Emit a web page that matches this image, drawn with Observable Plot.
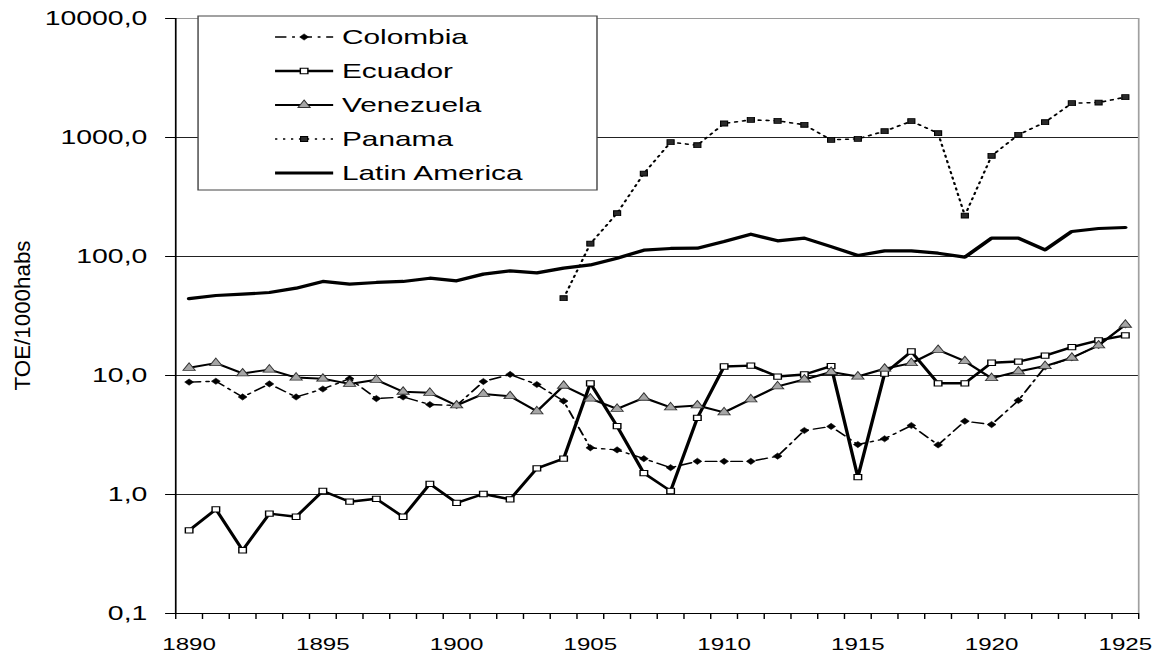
<!DOCTYPE html>
<html>
<head>
<meta charset="utf-8">
<script src="https://cdn.jsdelivr.net/npm/d3@7"></script>
<script src="https://cdn.jsdelivr.net/npm/@observablehq/plot@0.6"></script>
<style>
  html, body { margin: 0; padding: 0; background: #fff; }
  #chart { width: 1165px; height: 655px; overflow: hidden; }
</style>
</head>
<body>
<div id="chart"></div>
<script>
// ---------- data ----------
const years = [1890,1891,1892,1893,1894,1895,1896,1897,1898,1899,
               1900,1901,1902,1903,1904,1905,1906,1907,1908,1909,
               1910,1911,1912,1913,1914,1915,1916,1917,1918,1919,
               1920,1921,1922,1923,1924,1925];

const colombia = [8.8, 8.95, 6.6, 8.5, 6.6, 7.7, 9.4, 6.4, 6.6, 5.7,
                  5.6, 8.9, 10.2, 8.4, 6.1, 2.47, 2.37, 2.0, 1.68, 1.9,
                  1.9, 1.9, 2.1, 3.45, 3.73, 2.63, 2.94, 3.8, 2.61, 4.13,
                  3.87, 6.17, 11.8, 14.1, 17.9, 26.7];

const ecuador = [0.5, 0.75, 0.34, 0.69, 0.65, 1.07, 0.87, 0.92, 0.65, 1.23,
                 0.85, 1.01, 0.91, 1.66, 2.0, 8.6, 3.75, 1.51, 1.07, 4.4,
                 11.9, 12.1, 9.8, 10.2, 12.0, 1.4, 10.4, 15.9, 8.6, 8.6,
                 12.8, 13.1, 14.7, 17.3, 19.7, 21.7];

const venezuela = [11.6, 12.7, 10.4, 11.2, 9.6, 9.4, 8.5, 9.2, 7.3, 7.15,
                   5.6, 7.0, 6.7, 5.0, 8.2, 6.4, 5.25, 6.5, 5.4, 5.6,
                   4.9, 6.3, 8.1, 9.25, 10.7, 9.8, 11.4, 12.7, 16.4, 13.2,
                   9.5, 10.8, 12.0, 14.1, 17.9, 26.7];

const panama = [null, null, null, null, null, null, null, null, null, null,
                null, null, null, null, 44.6, 128, 231, 498, 913, 861,
                1311, 1408, 1381, 1279, 956, 975, 1129, 1371, 1086, 221,
                702, 1054, 1344, 1942, 1968, 2181];

const latinAmerica = [44.2, 47, 48.2, 49.8, 54.2, 61.7, 58.5, 60.5, 61.7, 65.7,
                      62.5, 71.1, 75.8, 72.9, 79.8, 85, 96.8, 113, 116.8, 117.5,
                      133.7, 154, 135.5, 142.6, 121, 102, 111.6, 111.6, 106.6, 98.7,
                      142.6, 142.6, 113.8, 162.3, 171.9, 175.3];

const seriesNames = ["Colombia", "Ecuador", "Venezuela", "Panama", "Latin America"];
const yTicks = [0.1, 1, 10, 100, 1000, 10000];
const yLabel = "TOE/1000habs";

// ---------- helpers ----------
const W = 820, H = 655, OUT_W = 1165;
const rows = vals => years.map((year, i) => ({year, value: vals[i]})).filter(d => d.value != null);
const xDomain = [years[0] - 0.5, years[years.length - 1] + 0.5];
const bounds = years.map(y => y - 0.5).concat([years[years.length - 1] + 0.5]);
const labelYears = years.filter(y => y % 5 === 0);
const fmt = d => d.toFixed(1).replace(".", ",");

const styles = {
  "Colombia":      {data: colombia, line: {stroke: "#000", strokeWidth: 1.4, strokeDasharray: "8,4,2,4"},
                    dot: {symbol: "diamond2", r: 2.8, fill: "#000", stroke: "#000", strokeWidth: 0.5}},
  "Ecuador":       {data: ecuador, line: {stroke: "#000", strokeWidth: 2.4},
                    dot: {symbol: "square", r: 3, fill: "#fff", stroke: "#000", strokeWidth: 1}},
  "Venezuela":     {data: venezuela, line: {stroke: "#000", strokeWidth: 2},
                    dot: {symbol: "triangle", r: 3.2, fill: "#a6a6a6", stroke: "#333", strokeWidth: 0.8}},
  "Panama":        {data: panama, line: {stroke: "#000", strokeWidth: 1.6, strokeDasharray: "1.6,4"},
                    dot: {symbol: "square", r: 2.8, fill: "#2a2a2a", stroke: "#000", strokeWidth: 0.8}},
  "Latin America": {data: latinAmerica, line: {stroke: "#000", strokeWidth: 3.2}, dot: null}
};

const seriesMarks = [];
for (const name of seriesNames) {
  const s = styles[name];
  const r = rows(s.data);
  seriesMarks.push(Plot.line(r, {x: "year", y: "value", ...s.line}));
  if (s.dot) seriesMarks.push(Plot.dot(r, {x: "year", y: "value", ...s.dot}));
}

const svg = Plot.plot({
  width: W,
  height: H,
  marginLeft: 123.2,
  marginRight: 19,
  marginTop: 18,
  marginBottom: 42,
  style: {fontFamily: '"Liberation Sans", Arial, sans-serif', fontSize: "20px", color: "#000", background: "#fff"},
  x: {domain: xDomain},
  y: {type: "log", domain: [yTicks[0], yTicks[yTicks.length - 1]]},
  marks: [
    Plot.ruleY(yTicks.slice(1, -1), {stroke: "#222", strokeWidth: 1}),
    Plot.ruleY([yTicks[yTicks.length - 1]], {stroke: "#9a9a9a", strokeWidth: 1}),
    Plot.ruleX([xDomain[1]], {stroke: "#a0a0a0", strokeWidth: 1.2}),
    Plot.ruleX([xDomain[0]], {stroke: "#000", strokeWidth: 1.2}),
    Plot.ruleY([yTicks[0]], {stroke: "#000", strokeWidth: 1.2}),
    Plot.axisY({ticks: yTicks, tickFormat: fmt, tickSize: 7, tickPadding: 13, fontSize: 20, label: null, stroke: "#000"}),
    Plot.axisX({ticks: bounds, tickFormat: () => "", tickSize: 6, label: null, stroke: "#000"}),
    Plot.axisX({ticks: labelYears, tickFormat: "d", tickSize: 0, tickPadding: 24, fontSize: 17, label: null}),
    ...seriesMarks
  ]
});

// ---------- legend (inside the plot, drawn in svg pixel space) ----------
const sel = d3.select(svg);
const lg = sel.append("g").attr("class", "legend").attr("text-anchor", "start");
const box = {x: 139.4, y: 16, w: 280.8, h: 174};
lg.append("rect").attr("x", box.x).attr("y", box.y).attr("width", box.w).attr("height", box.h)
  .attr("fill", "#fff").attr("stroke", "#444").attr("stroke-width", 1);
const rowY0 = 37, rowStep = 34, lx1 = 193.6, lx2 = 234.5, tx = 240.7;
const symbolMap = {square: d3.symbolSquare, triangle: d3.symbolTriangle, diamond2: d3.symbolDiamond2};
seriesNames.forEach((name, i) => {
  const s = styles[name];
  const y = rowY0 + i * rowStep;
  lg.append("line").attr("x1", lx1).attr("x2", lx2).attr("y1", y).attr("y2", y)
    .attr("stroke", s.line.stroke).attr("stroke-width", s.line.strokeWidth)
    .attr("stroke-dasharray", s.line.strokeDasharray || null);
  if (s.dot) {
    lg.append("path")
      .attr("d", d3.symbol(symbolMap[s.dot.symbol], Math.PI * s.dot.r * s.dot.r)())
      .attr("transform", `translate(${(lx1 + lx2) / 2},${y})`)
      .attr("fill", s.dot.fill).attr("stroke", s.dot.stroke).attr("stroke-width", s.dot.strokeWidth);
  }
  lg.append("text").attr("x", tx).attr("y", y).attr("dy", "0.35em")
    .attr("text-anchor", "start")
    .attr("font-size", 21).attr("fill", "#000").text(name);
});

// ---------- y axis title ----------
sel.append("text")
  .attr("transform", `translate(15.5,${(18 + 613) / 2}) rotate(-90)`)
  .attr("text-anchor", "middle").attr("dy", "0.35em")
  .attr("font-size", 16).attr("fill", "#000")
  .attr("textLength", 150).attr("lengthAdjust", "spacingAndGlyphs")
  .text(yLabel);

// ---------- horizontal stretch to the output size ----------
svg.setAttribute("viewBox", `0 0 ${W} ${H}`);
svg.setAttribute("width", OUT_W);
svg.setAttribute("height", H);
svg.setAttribute("preserveAspectRatio", "none");
svg.style.width = OUT_W + "px";
svg.style.height = H + "px";
svg.style.maxWidth = "none";
svg.style.display = "block";

document.getElementById("chart").appendChild(svg);
</script>
</body>
</html>
